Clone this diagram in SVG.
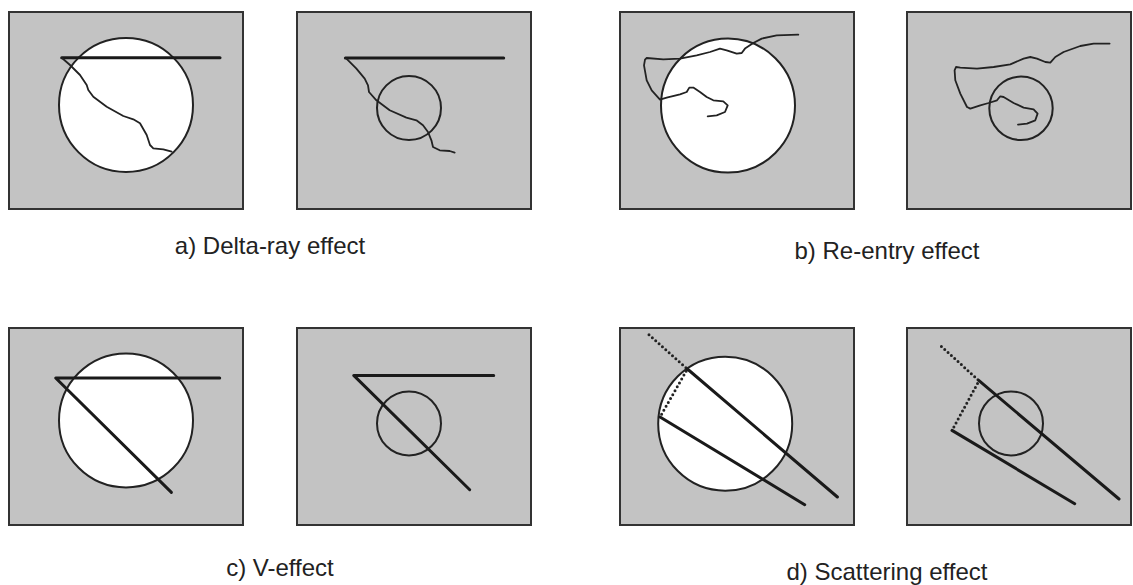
<svg xmlns="http://www.w3.org/2000/svg" width="1133" height="585" viewBox="0 0 1133 585">
<style>
.panel{fill:#c3c3c3;stroke:#333;stroke-width:2}
.big{fill:#fff;stroke:#222;stroke-width:2}
.small{fill:none;stroke:#222;stroke-width:2}
.track{fill:none;stroke:#1a1a1a;stroke-width:3;stroke-linecap:round;stroke-linejoin:round}
.wavy{fill:none;stroke:#222;stroke-width:1.8;stroke-linecap:round;stroke-linejoin:round}
.dots{fill:none;stroke:#222;stroke-width:3;stroke-linecap:round;stroke-dasharray:0 4.5}
.lbl{font-family:"Liberation Sans",Arial,sans-serif;font-size:24px;fill:#222;text-anchor:middle}
</style>
<rect width="1133" height="585" fill="#fff"/>
<g id="a1" transform="translate(9,12)">
<rect class="panel" x="0" y="0" width="234" height="197"/>
<circle class="big" cx="117" cy="93" r="67"/>
<line class="track" x1="52.7" y1="45.7" x2="211" y2="45.7"/>
<polyline class="wavy" points="53,46 61,53 71,63 77.7,73 79.3,78 84.3,84.7 97.7,94.7 114.3,104 124.3,107.3 131,111.3 137.7,123 141,133 144.3,136.3 154.3,137.3 162.7,139.7"/>
</g>
<g id="a2" transform="translate(297,12)">
<rect class="panel" x="0" y="0" width="234" height="197"/>
<circle class="small" cx="112" cy="96" r="32"/>
<line class="track" x1="48.4" y1="46" x2="206.7" y2="46"/>
<polyline class="wavy" points="49.4,46.6 59.4,56.6 67.7,66.6 71,73.3 72,80 79.4,88.3 92.7,98.3 109.4,105.6 119.4,108.3 126,113.3 131,120 134.4,128.3 136,135 142.7,138.3 152.7,139 157.7,140.6"/>
</g>
<g id="b1" transform="translate(620,12)">
<rect class="panel" x="0" y="0" width="234" height="197"/>
<circle class="big" cx="108" cy="93.6" r="67"/>
<polyline class="wavy" points="178.3,22.6 156.7,23.3 141.7,26.6 133.3,31 125,36.6 121.7,41 116.7,41.6 106.7,38.3 100,36.6 90,40 76.7,43.3 60,46.6 43.3,47.3 26.7,46 25,47.6 24,53.3 26.7,68.3 31.7,78.3 40,87.6 46.7,85.6 60,82.3 66.7,80 69.3,75.6 73.3,75.6 80,80 86.7,85 93.3,88.3 103.3,89.3 107.7,93.3 105,100 96.7,103.3 87.7,104.3"/>
</g>
<g id="b2" transform="translate(907,12)">
<rect class="panel" x="0" y="0" width="224" height="197"/>
<circle class="small" cx="114" cy="96.3" r="31.7"/>
<polyline class="wavy" points="202.6,31.6 186.6,31.6 173.3,34 156.6,40 148.3,45 143.3,50.6 138.3,50 130,46.6 123.3,45 116.6,46.6 103.3,52.3 86.6,55 70,56.6 53.3,55.6 49,55 47.6,58.3 48.3,68.3 53.3,81.6 60,95 63.3,96.6 73.3,93.3 81.6,91 90,88.3 93.3,84.3 96.6,85 106.6,91 116.6,95.6 126.6,97.3 130.6,101.6 128.3,108.3 120,111.6 111,112.6"/>
</g>
<g id="c1" transform="translate(9,328)">
<rect class="panel" x="0" y="0" width="234" height="197"/>
<circle class="big" cx="117" cy="92.4" r="67"/>
<polyline class="track" points="210.7,50 46.7,50 162.4,164.4"/>
</g>
<g id="c2" transform="translate(297,328)">
<rect class="panel" x="0" y="0" width="234" height="197"/>
<circle class="small" cx="112" cy="95.4" r="32"/>
<polyline class="track" points="196.7,47.4 56.7,47.4 172.7,161.7"/>
</g>
<g id="d1" transform="translate(620,328)">
<rect class="panel" x="0" y="0" width="234" height="197"/>
<circle class="big" cx="105.2" cy="95.7" r="67"/>
<polyline class="dots" points="29,6.7 67.4,41 40,89"/>
<line class="track" x1="67.4" y1="41" x2="217.4" y2="169"/>
<line class="track" x1="40" y1="89" x2="184.7" y2="176.7"/>
</g>
<g id="d2" transform="translate(907,328)">
<rect class="panel" x="0" y="0" width="224" height="197"/>
<circle class="small" cx="104" cy="95.4" r="32"/>
<polyline class="dots" points="34.4,18.4 72,52.7 45,102.4"/>
<line class="track" x1="72" y1="52.7" x2="212" y2="171"/>
<line class="track" x1="45" y1="102.4" x2="167.7" y2="175.7"/>
</g>
<g id="labels">
<text class="lbl" x="270" y="254">a) Delta-ray effect</text>
<text class="lbl" x="887" y="259">b) Re-entry effect</text>
<text class="lbl" x="280" y="576">c) V-effect</text>
<text class="lbl" x="887" y="580">d) Scattering effect</text>
</g>
</svg>
